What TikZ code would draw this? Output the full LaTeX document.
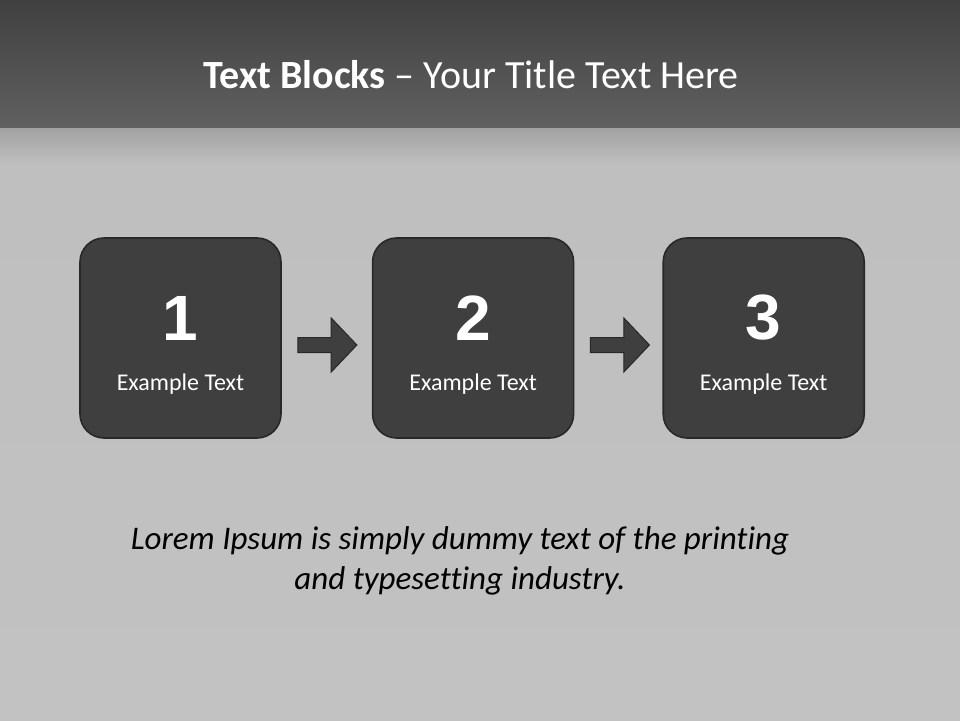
\documentclass[tikz,border=0pt]{standalone}
\usepackage{fontspec}
\setmainfont[Ligatures=NoCommon]{Carlito}
\newfontfamily\numfont{Liberation Sans}
\usepackage{xcolor}
\usepackage{tikz}
\usetikzlibrary{positioning,shapes.arrows}

\definecolor{blockfill}{HTML}{3F3F3F}
\definecolor{blockedge}{HTML}{282828}
\definecolor{bandtop}{HTML}{414141}
\definecolor{bandbottom}{HTML}{606060}
\definecolor{slatetop}{HTML}{A2A2A2}
\definecolor{slatemid}{HTML}{BFBFBF}
\definecolor{slatebottom}{HTML}{C2C2C2}

\begin{document}
\begin{tikzpicture}[
  x=1pt, y=-1pt,
  block/.style    = {rectangle, rounded corners=24pt, draw=blockedge, line width=1.6pt,
    fill=blockfill, minimum width=201pt, minimum height=200pt, inner sep=0pt},
  stepnum/.style  = {text=white, font=\numfont\bfseries\fontsize{64}{64}\selectfont, inner sep=0pt},
  steplabel/.style= {text=white, font=\fontsize{24}{28}\selectfont, inner sep=0pt, anchor=base},
  blockarrow/.style = {single arrow, draw=blockedge, line width=1pt, fill=blockfill,
    minimum height=59pt, inner xsep=0pt, inner ysep=7pt,
    single arrow head extend=19.5pt, single arrow tip angle=93},
  node distance=88pt,
]
  \useasboundingbox (0,0) rectangle (960,720);
  % background
  \shade[top color=bandtop, bottom color=bandbottom] (0,0) rectangle (960,128);
  \shade[top color=slatetop, bottom color=slatemid] (0,128) rectangle (960,165);
  \shade[top color=slatemid, bottom color=slatebottom] (0,165) rectangle (960,720);

  \node[text=white, font=\fontsize{40}{44}\selectfont] (title) at (471,75)
    {\textbf{Text Blocks} -- Your Title Text Here};

  \node[block] (b1) at (180.5,338) {};
  \node[block, right=90pt of b1] (b2) {};
  \node[block, right=of b2] (b3) {};

  \foreach \b/\n in {b1/1, b2/2, b3/3} {
    \node[stepnum] (num\n) at ([yshift=20pt]\b.center) {\n};
    \node[steplabel] (lab\n) at ([yshift=-52pt]\b.center) {Example Text};
  }

  \node[blockarrow] (a1) at ([xshift=42pt,yshift=-7pt]b1.east) {};
  \node[blockarrow] (a2) at ([xshift=42pt,yshift=-7pt]b2.east) {};

  \node[align=center, font=\itshape\fontsize{33}{40}\selectfont, inner sep=0pt] (note) at (460,561)
    {Lorem Ipsum is simply dummy text of the printing\\and typesetting industry.};
\end{tikzpicture}
\end{document}
